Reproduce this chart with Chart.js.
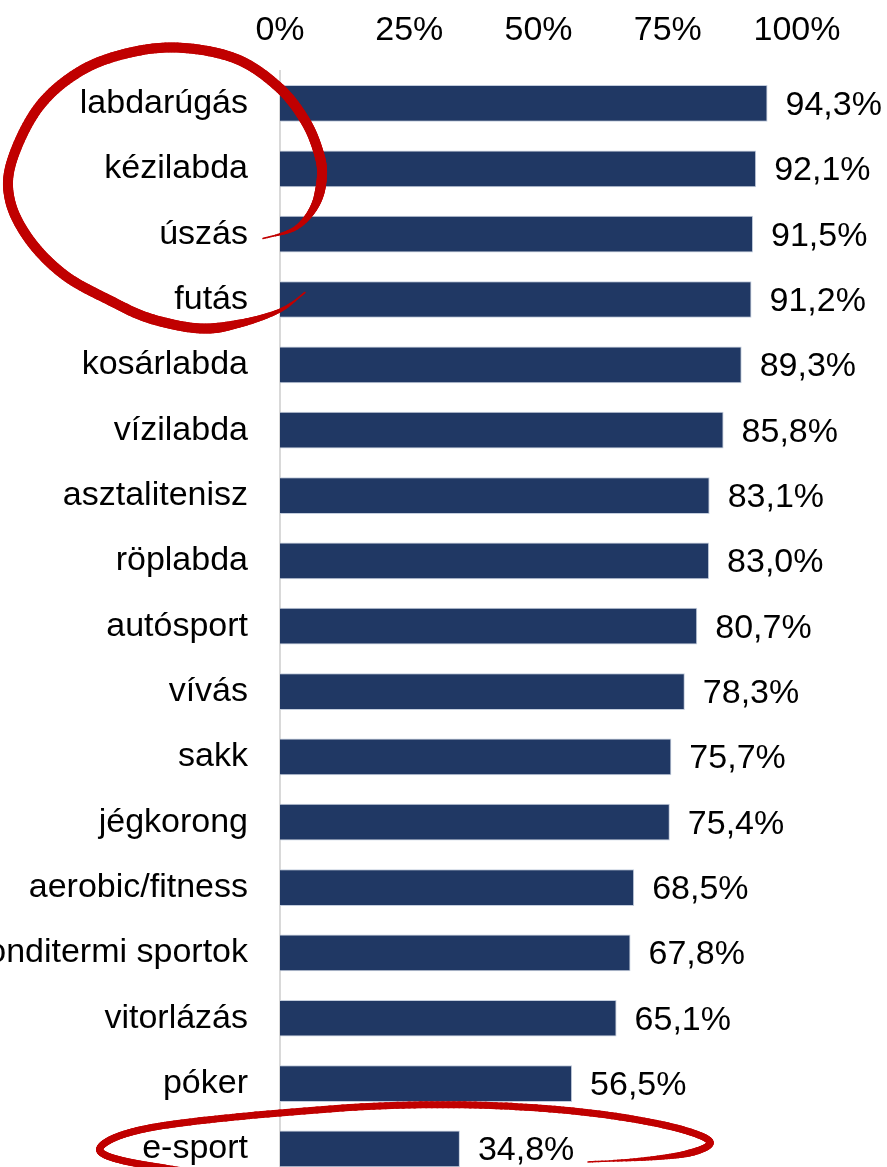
<!DOCTYPE html>
<html>
<head>
<meta charset="utf-8">
<script src="https://cdn.jsdelivr.net/npm/chart.js@4"></script>
<style>
  html, body { margin: 0; padding: 0; background: #fff; overflow: hidden; }
  #clip { width: 887px; height: 1167px; overflow: hidden; position: relative; }
  canvas { display: block; margin-top: -18px; }
</style>
</head>
<body>
<div id="clip"><canvas id="c" width="887" height="1252" style="width:887px;height:1252px"></canvas></div>
<script>
const categories = ["labdarúgás","kézilabda","úszás","futás","kosárlabda","vízilabda","asztalitenisz","röplabda","autósport","vívás","sakk","jégkorong","aerobic/fitness","konditermi sportok","vitorlázás","póker","e-sport"];
const values = [94.3, 92.1, 91.5, 91.2, 89.3, 85.8, 83.1, 83.0, 80.7, 78.3, 75.7, 75.4, 68.5, 67.8, 65.1, 56.5, 34.8];
const xTicks = [0, 25, 50, 75, 100];

const FONT = "'Liberation Sans', Arial, sans-serif";

// Hand-drawn highlight strokes (offsets relative to x=0 pixel and a category's centre)
const ring1 = { anchor: 0, pts: [[25,189],[0,207],[-40,220],[-80,225],[-130,215],[-170,197],[-215,172],[-250,137],[-270,97],[-268,57],[-240,2],[-195,-35],[-140,-53],[-90,-55],[-40,-43],[0,-15],[25,17],[38,47],[42,72],[35,102],[15,125],[-17,135]], maxW: 10 };
const ring2 = { anchor: 16, pts: [[10,33],[-50,27],[-115,19],[-160,11],[-180,2],[-170,-9],[-140,-19],[-90,-27],[0,-36],[100,-43],[190,-44],[270,-40],[340,-32],[400,-20],[430,-7],[410,4],[365,10],[308,13]], maxW: 7 };

function catmull(pts, steps) {
  const out = [];
  for (let i = 0; i < pts.length - 1; i++) {
    const p0 = pts[Math.max(0, i - 1)], p1 = pts[i], p2 = pts[i + 1], p3 = pts[Math.min(pts.length - 1, i + 2)];
    for (let s = 0; s < steps; s++) {
      const t = s / steps, t2 = t * t, t3 = t2 * t;
      const f = (a, b, c, d) => 0.5 * ((2 * b) + (-a + c) * t + (2 * a - 5 * b + 4 * c - d) * t2 + (-a + 3 * b - 3 * c + d) * t3);
      out.push([f(p0[0], p1[0], p2[0], p3[0]), f(p0[1], p1[1], p2[1], p3[1])]);
    }
  }
  out.push(pts[pts.length - 1]);
  return out;
}

const ringPlugin = {
  id: 'rings',
  afterDatasetsDraw(chart) {
    const ctx = chart.ctx;
    const x0 = chart.scales.x.getPixelForValue(0);
    ctx.save();
    ctx.strokeStyle = '#c00000';
    ctx.lineCap = 'round';
    [ring1, ring2].forEach(r => {
      const y0 = chart.scales.y.getPixelForValue(r.anchor);
      const abs = r.pts.map(p => [x0 + p[0], y0 + p[1]]);
      const s = catmull(abs, 16);
      const n = s.length;
      for (let i = 0; i < n - 1; i++) {
        const t = i / (n - 1);
        const w = Math.max(1.5, r.maxW * Math.min(1, t / 0.12, (1 - t) / 0.12));
        ctx.lineWidth = w;
        ctx.beginPath();
        ctx.moveTo(s[i][0], s[i][1]);
        ctx.lineTo(s[i + 1][0], s[i + 1][1]);
        ctx.stroke();
      }
    });
    ctx.restore();
  }
};

const labelPlugin = {
  id: 'valueLabels',
  afterDatasetsDraw(chart) {
    const ctx = chart.ctx;
    const meta = chart.getDatasetMeta(0);
    ctx.save();
    ctx.font = '34px ' + FONT;
    ctx.fillStyle = '#000';
    ctx.textAlign = 'left';
    ctx.textBaseline = 'middle';
    meta.data.forEach((bar, i) => {
      const txt = values[i].toFixed(1).replace('.', ',') + '%';
      ctx.fillText(txt, bar.x + 18, bar.y + 2);
    });
    ctx.restore();
  }
};

new Chart(document.getElementById('c'), {
  type: 'bar',
  data: {
    labels: categories,
    datasets: [{
      data: values,
      backgroundColor: '#203864',
      borderColor: '#c3cddd',
      borderWidth: 1,
      borderSkipped: 'start',
      categoryPercentage: 1,
      barPercentage: 0.562
    }]
  },
  options: {
    indexAxis: 'y',
    responsive: false,
    animation: false,
    events: [],
    layout: { padding: { top: 8, right: 90, bottom: 21, left: 0 } },
    plugins: { legend: { display: false }, tooltip: { enabled: false } },
    scales: {
      x: {
        position: 'top',
        min: 0, max: 100,
        afterBuildTicks(scale) { scale.ticks = xTicks.map(v => ({ value: v })); },
        ticks: {
          padding: 20,
          color: '#000',
          font: { family: FONT, size: 34 },
          callback: v => v + '%'
        },
        grid: { display: false, drawTicks: false },
        border: { display: false }
      },
      y: {
        afterFit(scale) { scale.width = 280; },
        ticks: {
          padding: 32,
          color: '#000',
          font: { family: FONT, size: 34 }
        },
        grid: { display: false, drawTicks: false },
        border: { display: true, color: '#d9d9d9', width: 2 }
      }
    }
  },
  plugins: [labelPlugin, ringPlugin]
});
</script>
</body>
</html>
